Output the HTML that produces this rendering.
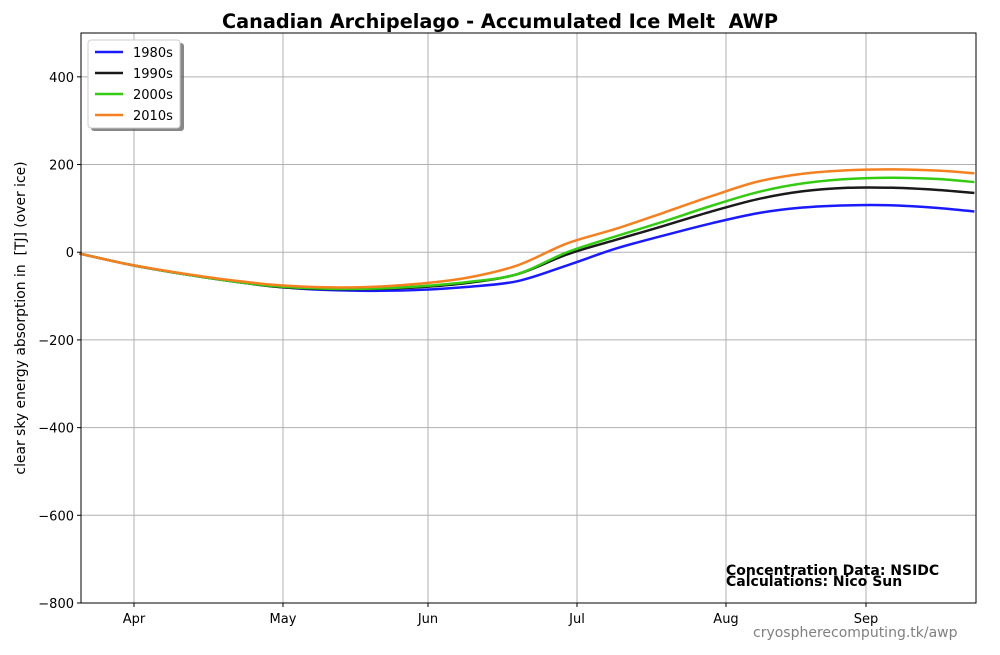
<!DOCTYPE html>
<html><head><meta charset="utf-8"><style>
body{margin:0;background:#fff;}
svg text{font-family:"DejaVu Sans","Liberation Sans",sans-serif;white-space:pre;}
</style></head><body>
<svg id="chart" width="1000" height="650" xmlns="http://www.w3.org/2000/svg">
<rect width="1000" height="650" fill="#fff"/>
<g id="grid"></g><g id="series"></g><g id="axes"></g>
<text x="500" y="28" text-anchor="middle" font-size="19.3" font-weight="bold">Canadian Archipelago - Accumulated Ice Melt &#160;AWP</text>
<text transform="translate(25,318) rotate(-90)" text-anchor="middle" font-size="13.9">clear sky energy absorption in &#160;[TJ] (over ice)</text>
<text x="726" y="575" font-size="14" font-weight="bold">Concentration Data: NSIDC</text>
<text x="726" y="586" font-size="14" font-weight="bold">Calculations: Nico Sun</text>
<text x="753" y="637" font-size="14" fill="#808080">cryospherecomputing.tk/awp</text>
<g id="legend">
<rect x="91" y="43" width="93" height="88" rx="3" fill="#555" opacity="0.7"/>
<rect x="88" y="40" width="92" height="88" rx="3" fill="#fff" stroke="#ccc"/>
</g>
</svg>
<script>
const days=[80,90,100,110,120,130,140,150,160,170,180,190,200,210,220,230,240,250,260,268];
const s1980=[-3,-28,-48,-65,-79,-86,-88,-86,-79,-66,-30,8,38,66,89,102,107,107,101,93];
const s1990=[-3,-28,-48,-65,-79,-84,-84,-80,-70,-50,-5,28,60,93,121,139,147,147,142,135];
const s2000=[-3,-28,-48,-65,-78,-83,-83,-78,-68,-50,0,36,70,106,137,157,167,170,167,160];
const s2010=[-3,-28,-47,-63,-75,-80,-79,-72,-58,-30,20,53,90,128,161,179,187,189,186,180];
const names=["1980s","1990s","2000s","2010s"];
const colors=["#1a1aff","#1a1a1a","#33cc11","#f5801f"];
const yTicks=[-800,-600,-400,-200,0,200,400];
const xTickDays=[91,121,152,182,213,244];
const xTickLabels=["Apr","May","Jun","Jul","Aug","Sep"];
const L=81,R=976,T=33,B=603;
const tickPx=[134,283,428,577,726,866];
function xs(d){
 let i=0;while(i<xTickDays.length-2&&d>xTickDays[i+1])i++;
 const d0=xTickDays[i],d1=xTickDays[i+1],p0=tickPx[i],p1=tickPx[i+1];
 return p0+(d-d0)*(p1-p0)/(d1-d0);}
const ys=v=>B-(v+800)*(B-T)/1300;
const NS="http://www.w3.org/2000/svg";
function mk(tag,attrs,parent){const e=document.createElementNS(NS,tag);for(const k in attrs)e.setAttribute(k,attrs[k]);parent.appendChild(e);return e;}
const grid=document.getElementById('grid'),axes=document.getElementById('axes'),ser=document.getElementById('series');
yTicks.forEach(v=>{const y=ys(v);
 const g=mk('line',{x1:L,x2:R,y1:y,y2:y,stroke:'#b0b0b0','stroke-width':1},grid);
 
 mk('line',{x1:L-4,x2:L,y1:y,y2:y,stroke:'#000'},axes);
 const t=mk('text',{x:L-7,y:y+5,'text-anchor':'end','font-size':13},axes);t.textContent=(v<0?'\u2212'+(-v):v);
 });
xTickDays.forEach((d,i)=>{const x=xs(d);
 const g=mk('line',{x1:x,x2:x,y1:T,y2:B,stroke:'#b0b0b0','stroke-width':1},grid);
 
 mk('line',{x1:x,x2:x,y1:B,y2:B+4,stroke:'#000'},axes);
 const t=mk('text',{x:x,y:B+20,'text-anchor':'middle','font-size':13},axes);t.textContent=xTickLabels[i];
 });
const fr=mk('rect',{x:L,y:T,width:R-L,height:B-T,fill:'none',stroke:'#000','stroke-width':1},axes);

function pathFor(vals){const p=days.map((d,i)=>[xs(d),ys(vals[i])]);
 let s=`M${p[0][0]},${p[0][1]}`;
 for(let i=0;i<p.length-1;i++){const p0=p[Math.max(0,i-1)],p1=p[i],p2=p[i+1],p3=p[Math.min(p.length-1,i+2)];
  s+=` C${p1[0]+(p2[0]-p0[0])/6},${p1[1]+(p2[1]-p0[1])/6} ${p2[0]-(p3[0]-p1[0])/6},${p2[1]-(p3[1]-p1[1])/6} ${p2[0]},${p2[1]}`;}
 return s;}
[s1980,s1990,s2000,s2010].forEach((vals,i)=>{
 const p=mk('path',{d:pathFor(vals),fill:'none',stroke:colors[i],'stroke-width':2.5},ser);
 });
const lg=document.getElementById('legend');
names.forEach((n,i)=>{const y=52+i*21;
 const l=mk('line',{x1:95,x2:123,y1:y,y2:y,stroke:colors[i],'stroke-width':2.5},lg);
 
 const t=mk('text',{x:133,y:y+5,'font-size':13},lg);t.textContent=n;
 });
</script>
</body></html>
